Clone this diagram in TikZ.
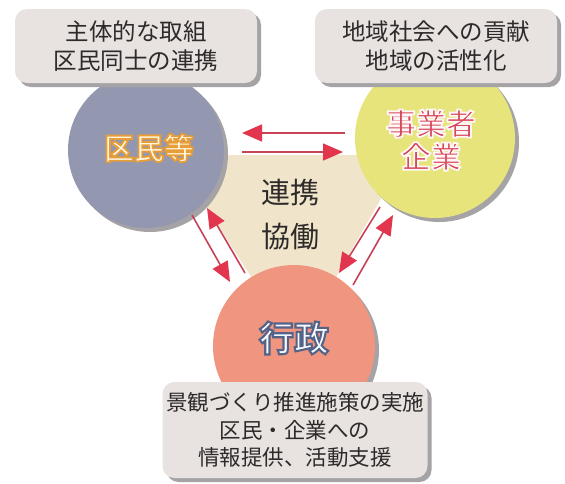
\documentclass[tikz,border=0pt]{standalone}
\usepackage{fontspec}
\newfontfamily\jp{Noto Sans CJK JP}
\newfontfamily\jpol[UprightFont={* Bold},FakeBold=6]{Noto Sans CJK JP}
\usetikzlibrary{arrows.meta,shadows}
\definecolor{boxfill}{RGB}{232,226,224}
\definecolor{shadowc}{RGB}{165,163,165}
\definecolor{citizen}{RGB}{147,152,176}
\definecolor{biz}{RGB}{230,228,122}
\definecolor{gov}{RGB}{240,150,128}
\definecolor{tri}{RGB}{240,228,202}
\definecolor{arrowc}{RGB}{226,54,78}
\definecolor{arrowl}{RGB}{200,66,88}
\definecolor{txt}{RGB}{45,42,42}
\definecolor{cream}{RGB}{255,246,226}
\definecolor{bizred}{RGB}{216,70,90}
\definecolor{govfill}{RGB}{246,249,255}
% stroke colours for the outlined labels (PDF RG operator)
\newcommand\strokegold{\special{pdf:code 0.91 0.62 0.22 RG}}
\newcommand\strokewhite{\special{pdf:code 1 0.97 0.97 RG}}
\newcommand\strokegov{\special{pdf:code 0.33 0.39 0.53 RG}}
\begin{document}
\begin{tikzpicture}[x=1pt,y=-1pt,
  infobox/.style={fill=boxfill, rounded corners=12pt, align=center, text=txt,
    font=\jp\fontsize{23.5}{28.5}\selectfont,
    drop shadow={shadow xshift=4pt, shadow yshift=-4pt, fill=shadowc, opacity=1}},
  actor/.style={circle, inner sep=0pt,
    drop shadow={shadow xshift=4pt, shadow yshift=-4pt, fill=shadowc, opacity=1}},
  conn/.style={draw=arrowl, line width=1.6pt, -{Triangle[length=20pt,width=17pt,color=arrowc]}},
  lbl/.style={inner sep=0pt, font=\jpol\fontsize{30}{30}\selectfont},
]
\useasboundingbox (0,0) rectangle (565,483);
\fill[white] (0,0) rectangle (565,483);

% central triangle
\fill[tri] (173,155) -- (406,155) -- (296,347) -- cycle;

% actors
\node[actor, fill=citizen, minimum size=156pt] (kumin) at (146,150) {};
\node[actor, fill=biz, minimum size=160pt] (jigyo) at (435,138) {};
\node[actor, fill=gov, minimum size=162pt] (gyosei) at (294,346) {};

% central text
\node[align=center, text=txt, font=\jp\fontsize{29}{44}\selectfont] (renkei) at (290,215) {連携\\協働};

% arrows
\coordinate (a1s) at (345,133); \coordinate (a1e) at (242,133);
\coordinate (a2s) at (242,152); \coordinate (a2e) at (343,152);
\coordinate (b1s) at (192,215); \coordinate (b1e) at (230,282);
\coordinate (b2s) at (245,273); \coordinate (b2e) at (207,208);
\coordinate (c1s) at (380,207); \coordinate (c1e) at (339,273);
\coordinate (c2s) at (353,285); \coordinate (c2e) at (393,215);
\draw[conn] (a1s) -- (a1e);
\draw[conn] (a2s) -- (a2e);
\draw[conn] (b1s) -- (b1e);
\draw[conn] (b2s) -- (b2e);
\draw[conn] (c1s) -- (c1e);
\draw[conn] (c2s) -- (c2e);

% info boxes
\node[infobox, minimum width=242pt, minimum height=74pt] (tl) at (136,46) {主体的な取組\\区民同士の連携};
\node[infobox, minimum width=242pt, minimum height=74pt] (tr) at (436,46) {地域社会への貢献\\地域の活性化};
\node[infobox, minimum width=265pt, minimum height=96pt, font=\jp\fontsize{21.5}{27.5}\selectfont] (bt) at (295,430) {景観づくり推進施策の実施\\区民・企業への\\情報提供、活動支援};

% actor labels (outlined text)
\node[lbl, text=cream] (kuminL) at (149,148) {\strokegold 区民等};
\node[lbl, text=bizred, align=center, font=\jpol\fontsize{30}{33}\selectfont] (jigyoL) at (431,140) {\strokewhite 事業者\\\strokewhite 企業};
\node[lbl, text=govfill, font=\jpol\fontsize{35}{35}\selectfont] (gyoseiL) at (294,338) {\strokegov 行政};
\end{tikzpicture}
\end{document}
